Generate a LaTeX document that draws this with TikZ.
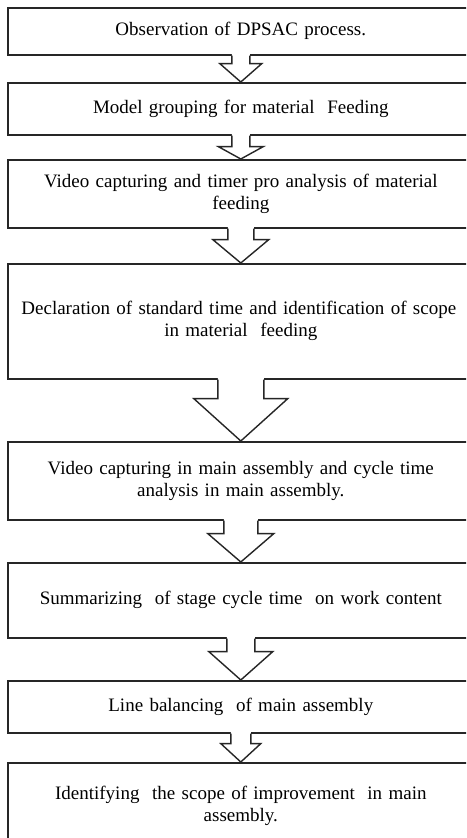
\documentclass[tikz,border=0pt]{standalone}
\usepackage{fontspec}
\setmainfont{Liberation Serif}
\usetikzlibrary{calc}
\tikzset{
  stepbox/.style={draw=black!85, line width=1.6pt, rectangle, minimum width=466pt,
    text width=455pt, align=center, inner sep=0pt, anchor=north west,
    font=\fontsize{19}{22}\selectfont},
  arrowline/.style={draw=black!85, line width=1.4pt, line join=miter},
}
\newcommand{\fatarrow}[5]{%
  \fill[white] ($(#1.south)+(-#3,-1.5)$) -- ($(#1.south)+(-#3,#5)$) -- ($(#1.south)+(-#4,#5)$)
     -- (#2.north) -- ($(#1.south)+(#4,#5)$) -- ($(#1.south)+(#3,#5)$) -- ($(#1.south)+(#3,-1.5)$) -- cycle;
  \draw[arrowline] ($(#1.south)+(-#3,0)$) -- ($(#1.south)+(-#3,#5)$) -- ($(#1.south)+(-#4,#5)$)
     -- (#2.north) -- ($(#1.south)+(#4,#5)$) -- ($(#1.south)+(#3,#5)$) -- ($(#1.south)+(#3,0)$);
}
\begin{document}
\begin{tikzpicture}[x=1pt,y=-1pt]
\useasboundingbox (0,0) rectangle (466,838);
\clip (0,0) rectangle (466,838);
\fill[white] (0,0) rectangle (466,838);
\node[stepbox, minimum height=47pt] (b1) at (7,7) {\raisebox{-1.5pt}{Observation of DPSAC process.}};
\node[stepbox, minimum height=52pt] (b2) at (7,82) {Model grouping for material~ Feeding};
\node[stepbox, minimum height=68pt] (b3) at (7,159) {Video capturing and timer pro analysis of material\\feeding};
\node[stepbox, minimum height=115pt] (b4) at (7,263) {\hspace*{-4pt}Declaration of standard time and identification of scope\\in material~ feeding};
\node[stepbox, minimum height=78pt] (b5) at (7,441) {Video capturing in main assembly and cycle time\\analysis in main assembly.};
\node[stepbox, minimum height=75pt] (b6) at (7,562) {Summarizing~ of stage cycle time~ on work content};
\node[stepbox, minimum height=52pt] (b7) at (7,680) {Line balancing~ of main assembly};
\node[stepbox, minimum height=86pt] (b8) at (7,762) {Identifying~ the scope of improvement~ in main\\assembly.};
\fatarrow{b1}{b2}{9}{21}{8}
\fatarrow{b2}{b3}{9}{22.5}{11}
\fatarrow{b3}{b4}{13}{28}{11}
\fatarrow{b4}{b5}{23}{47}{19}
\fatarrow{b5}{b6}{17}{33}{13}
\fatarrow{b6}{b7}{14}{32}{13}
\fatarrow{b7}{b8}{10}{20}{10}
\end{tikzpicture}
\end{document}
